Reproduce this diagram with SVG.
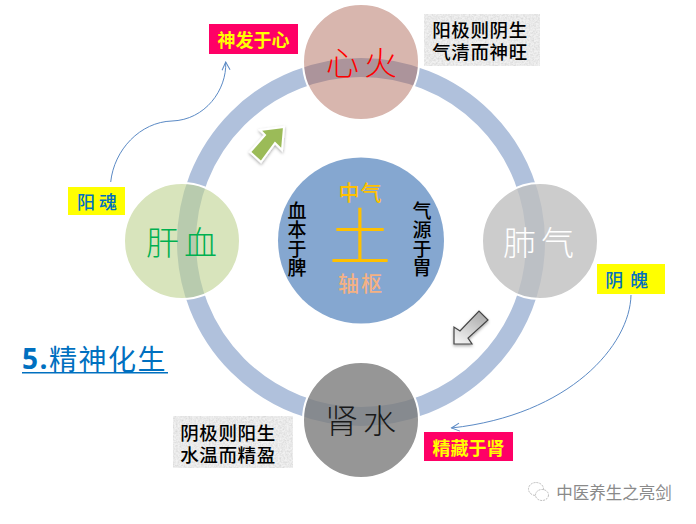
<svg xmlns="http://www.w3.org/2000/svg" width="696" height="524" viewBox="0 0 696 524">
<style>
text{font-family:"Noto Sans CJK SC","Noto Sans CJK TC",sans-serif;text-anchor:middle;dominant-baseline:central}
.big{font-size:33px;font-weight:300;letter-spacing:5px}
.lab{font-size:18px;font-weight:700;fill:#ffff00}
.note{font-size:18.500px;font-weight:500;fill:#000;letter-spacing:.6px}
.soul{font-size:18px;font-weight:500;fill:#0070c0}
.side{font-size:19px;font-weight:500;fill:#000;writing-mode:vertical-rl;letter-spacing:0}
.node{stroke:#fff;stroke-width:2}
.curve{fill:none;stroke:#5b8ac5;stroke-width:1}
</style>
<defs>
<marker id="open" viewBox="0 0 10 10" refX="9" refY="5" markerWidth="10" markerHeight="10" markerUnits="userSpaceOnUse" orient="auto"><path d="M1 1L9 5L1 9" fill="none" stroke="#5b8ac5" stroke-width="1"/></marker>
<filter id="noise" x="0" y="0" width="100%" height="100%"><feTurbulence type="fractalNoise" baseFrequency="0.55" numOctaves="2" seed="4"/><feColorMatrix values="0 0 0 0 0.5 0 0 0 0 0.5 0 0 0 0 0.5 0.9 0 0 0 -0.28"/><feComposite in2="SourceGraphic" operator="over"/></filter>
<filter id="shadow" x="-30%" y="-30%" width="160%" height="160%"><feDropShadow dx="0" dy="1.5" stdDeviation="1.5" flood-color="#000" flood-opacity=".35"/></filter>
<linearGradient id="grey" x1="0.8" y1="0" x2="0.2" y2="1"><stop offset="0" stop-color="#a8a8a8"/><stop offset="1" stop-color="#f2f2f2"/></linearGradient>
</defs>
<rect width="696" height="524" fill="#fff"/>
<circle id="ring" cx="361" cy="242" r="174.500" fill="none" stroke="#b0c1dc" stroke-width="19"/>
<g id="center">
<circle cx="361" cy="240.500" r="83" fill="#85a7d0"/>
<text x="360.500" y="191" font-size="21" font-weight="500" letter-spacing="1" fill="#ffc000">中气</text>
<text x="360" y="233" font-size="62" font-weight="300" fill="#ffc000">土</text>
<text x="361" y="282" font-size="21" font-weight="500" letter-spacing="2" fill="#f4b183">轴枢</text>
<text x="297" y="239" class="side">血本于脾</text>
<text x="422" y="239" class="side">气源于胃</text>
</g>
<g id="heart"><circle class="node" cx="361" cy="62" r="58" fill="#a95d4b" fill-opacity=".45"/><text x="364" y="61" class="big" fill="#ff0000">心火</text></g>
<g id="liver"><circle class="node" cx="182" cy="241" r="58" fill="#bed28f" fill-opacity=".6"/><text x="184" y="241" class="big" fill="#00b050">肝血</text></g>
<g id="lung"><circle class="node" cx="540" cy="241" r="58" fill="#bfbfbf" fill-opacity=".8"/><text x="541" y="241" class="big" fill="#fff">肺气</text></g>
<g id="kidney"><circle class="node" cx="361" cy="420" r="58" fill="#7c7c7c" fill-opacity=".8"/><text x="363" y="419" class="big" fill="#1a1a1a">肾水</text></g>
<g id="connectors">
<path class="curve" marker-end="url(#open)" d="M110.700 182C114 150 140 122 172 121C205 120 227 90 225.700 62"/>
<path class="curve" marker-end="url(#open)" d="M631 295C630 345 570 415 451.500 428"/>
<polygon points="284,127 282,150 275,143 261,162 250,152 265,135 260,130" fill="#9bbb59" stroke="#fff" stroke-width="2" filter="url(#shadow)"/>
<polygon points="454,344 454,327 460,331 479,311 488,320 468,338 472,344" fill="url(#grey)" stroke="#444" stroke-width="1.200" filter="url(#shadow)"/>
</g>
<g id="label-shen"><rect x="209" y="24" width="89" height="30" fill="#ff0066"/><text x="253.500" y="39" class="lab">神发于心</text></g>
<g id="label-jing"><rect x="424" y="432" width="89" height="29" fill="#ff0066"/><text x="468.500" y="446.500" class="lab">精藏于肾</text></g>
<g id="label-hun"><rect x="68" y="187" width="57" height="28" fill="#ffff00"/><text x="97" y="201" class="soul">阳 魂</text></g>
<g id="label-po"><rect x="597" y="264" width="68" height="30" fill="#ffff00"/><text x="627.500" y="279" class="soul" letter-spacing="1.500">阴 魄</text></g>
<g id="note-yang"><rect x="424" y="14" width="116" height="52" fill="#f1f1f1" filter="url(#noise)"/><text x="480" y="29" class="note">阳极则阴生</text><text x="480" y="51" class="note">气清而神旺</text></g>
<g id="note-yin"><rect x="173" y="416" width="120" height="52" fill="#f1f1f1" filter="url(#noise)"/><text x="228" y="432" class="note">阴极则阳生</text><text x="228" y="454" class="note">水温而精盈</text></g>
<g id="title"><text x="22" y="358" font-size="28" letter-spacing="1.500" fill="#0070c0" style="text-anchor:start"><tspan font-weight="700" font-family="Open Sans, sans-serif">5.</tspan>精神化生</text><rect x="22" y="372" width="146" height="1.500" fill="#0070c0"/></g>
<g id="watermark"><ellipse cx="536" cy="489" rx="7.500" ry="6.500" fill="#fff" stroke="#bbb" stroke-dasharray="2 1"/><ellipse cx="542" cy="495" rx="6.500" ry="5.500" fill="#fff" stroke="#bbb" stroke-dasharray="2 1"/><text x="614" y="492" font-size="16.500" fill="#8a8a8a">中医养生之亮剑</text></g>
</svg>
